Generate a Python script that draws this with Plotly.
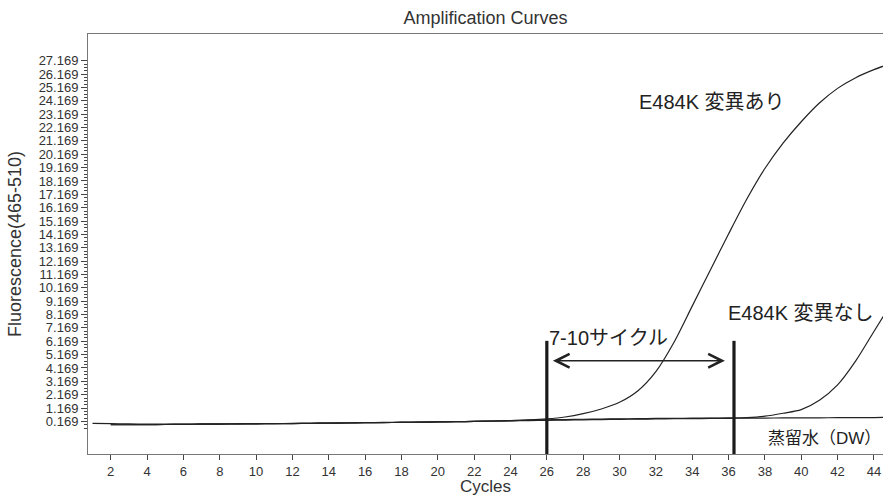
import numpy as np
import plotly.graph_objects as go

# ---- data ----
cycles_full = [1, 2, 3, 4, 5, 6, 7, 8, 9, 10, 11, 12, 13, 14, 15, 16, 17, 18, 19, 20, 21, 22, 23,
               24, 25, 26, 27, 28, 29, 30, 31, 32, 33, 34, 35, 36, 37, 38, 39, 40, 41, 42, 43, 44, 45]
cycles_pos = cycles_full[1:]
positive = [-0.08, -0.08, -0.07, -0.06, -0.05, -0.04, -0.03, -0.02, -0.01, 0.0, 0.01, 0.03, 0.04,
            0.05, 0.07, 0.08, 0.10, 0.11, 0.13, 0.15, 0.17, 0.20, 0.23, 0.28, 0.36, 0.50, 0.75,
            1.10, 1.60, 2.45, 3.90, 6.10, 8.80, 11.50, 14.20, 16.80, 19.10, 21.00, 22.60, 24.00,
            25.10, 25.90, 26.50, 27.00]
negative = [-0.08, -0.08, -0.07, -0.06, -0.05, -0.04, -0.03, -0.02, -0.01, 0.0, 0.01, 0.03, 0.04,
            0.05, 0.07, 0.08, 0.10, 0.11, 0.13, 0.15, 0.17, 0.20, 0.23, 0.26, 0.29, 0.31, 0.33,
            0.35, 0.36, 0.38, 0.39, 0.40, 0.41, 0.42, 0.43, 0.46, 0.56, 0.78, 1.05, 1.75, 2.90,
            4.70, 6.90, 9.10]
dw = [0.02, 0.0, -0.02, -0.03, -0.03, -0.03, -0.02, -0.02, -0.01, 0.0, 0.01, 0.02, 0.03, 0.05,
      0.06, 0.08, 0.09, 0.11, 0.12, 0.14, 0.15, 0.17, 0.19, 0.21, 0.23, 0.25, 0.27, 0.29, 0.31,
      0.32, 0.34, 0.35, 0.37, 0.38, 0.39, 0.40, 0.41, 0.42, 0.43, 0.44, 0.44, 0.45, 0.46, 0.46, 0.47]

x_ticks = list(range(2, 45, 2))
y_ticks = [i + 0.169 for i in range(0, 28)]
y_tick_labels = ["%.3f" % v for v in y_ticks]

marker_cycles = [26.0, 36.3]
marker_top = 6.2
arrow_y = 4.71
arrow_span = [26.25, 35.8]

labels = [
    ("E484K 変異あり", 35.08, 24.06, "center", 20, 0),
    ("E484K 変異なし", 39.96, 8.3, "center", 20, 0),
    ("7-10サイクル", 29.4, 6.43, "center", 20, 0),
    ("蒸留水（DW）", 44.42, -1.13, "right", 17, 1),
]

x_range = [0.75, 44.5]
y_range = [-2.27, 29.17]

FONT = "Liberation Sans, Arial, Noto Sans CJK JP"
TXT = "#333333"
LINE = "#222222"

fig = go.Figure()
fig.add_trace(go.Scatter(x=cycles_full, y=dw, mode="lines",
                         line=dict(color=LINE, width=1.2, shape="spline", smoothing=0.8)))
fig.add_trace(go.Scatter(x=cycles_pos, y=negative, mode="lines",
                         line=dict(color=LINE, width=1.2, shape="spline", smoothing=0.8)))
fig.add_trace(go.Scatter(x=cycles_pos, y=positive, mode="lines",
                         line=dict(color=LINE, width=1.2, shape="spline", smoothing=0.8)))

for mc in marker_cycles:
    fig.add_trace(go.Scatter(x=[mc, mc], y=[y_range[0], marker_top], mode="lines",
                             line=dict(color="#1a1a1a", width=3.2)))

fig.add_annotation(x=arrow_span[1], y=arrow_y, ax=arrow_span[0], ay=arrow_y,
                   xref="x", yref="y", axref="x", ayref="y", text="",
                   showarrow=True, arrowhead=5, startarrowhead=5, arrowside="end+start",
                   arrowwidth=1.5, arrowsize=1.8, startarrowsize=1.8, arrowcolor="#222222")

for text, lx, ly, anchor, fs, shift in labels:
    fig.add_annotation(x=lx, y=ly, xref="x", yref="y", text=text, showarrow=False,
                       xanchor=anchor, yanchor="middle", xshift=shift,
                       font=dict(family=FONT, size=fs, color="#222222"))

minor_vals = [round(v, 3) for v in np.arange(-0.331, 27.17, 0.25)]

fig.update_layout(
    width=883, height=496,
    margin=dict(l=88, r=0, t=34, b=42, autoexpand=False),
    paper_bgcolor="white", plot_bgcolor="white",
    showlegend=False,
    font=dict(family=FONT, color=TXT, size=13),
    title=dict(text="Amplification Curves", x=0.5, xref="paper", y=1 - 18 / 496,
               yref="container", xanchor="center", yanchor="middle",
               font=dict(family=FONT, size=18, color=TXT)),
    xaxis=dict(range=x_range, tickmode="array", tickvals=x_ticks, automargin=False,
               ticks="outside", ticklen=5, tickcolor="#444444", tickwidth=1,
               showline=True, linecolor="#777777", linewidth=1, mirror=True,
               showgrid=False, zeroline=False,
               tickfont=dict(family=FONT, size=13, color=TXT),
               title=dict(text="Cycles", font=dict(family=FONT, size=17, color=TXT), standoff=2)),
    yaxis=dict(range=y_range, tickmode="array", tickvals=y_ticks, ticktext=y_tick_labels,
               automargin=False,
               ticks="outside", ticklen=6, tickcolor="#444444", tickwidth=1,
               showline=True, linecolor="#777777", linewidth=1,
               showgrid=False, zeroline=False,
               tickfont=dict(family=FONT, size=13, color=TXT),
               minor=dict(tickmode="array", tickvals=minor_vals, ticks="outside",
                          ticklen=3, tickcolor="#444444", tickwidth=1, showgrid=False),
               title=dict(text="Fluorescence(465-510)", font=dict(family=FONT, size=18, color=TXT),
                          standoff=12)),
)

fig.write_html("out.html", config={"displayModeBar": False},
               post_script="document.body.style.margin='0';document.body.style.overflow='hidden';")
